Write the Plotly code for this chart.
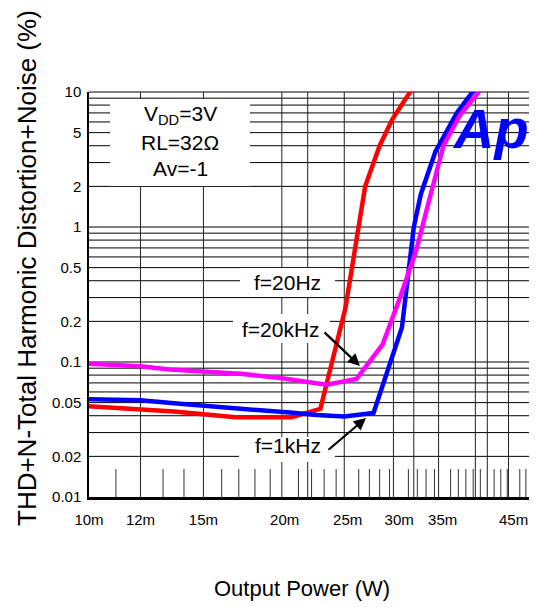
import math
import plotly.graph_objects as go

# ---------------- data ----------------
p20hz_mw = [10, 12, 13.5, 16.8, 20.5, 22.7, 23.2, 24.8, 26.6, 28.0, 29.3, 31.4]
thd20hz = [0.047, 0.045, 0.043, 0.039, 0.039, 0.045, 0.07, 0.25, 2.0, 4.0, 6.3, 10.5]

p1k_mw = [10, 12, 13.8, 17.1, 20.6, 22.4, 24.7, 27.4, 28.4, 30.3, 31.6, 32.4, 34.1, 35.1, 36.8, 39.2]
thd1k = [0.053, 0.052, 0.049, 0.0455, 0.042, 0.0405, 0.0395, 0.042, 0.07, 0.18, 1.0, 1.75, 3.6, 4.7, 7.0, 10.5]

p20k_mw = [10, 12, 13.3, 14.8, 17.1, 19.7, 23.2, 25.8, 28.3, 30.1, 31.9, 33.1, 34.3, 35.1, 37.2, 39.9]
thd20k = [0.097, 0.093, 0.088, 0.086, 0.082, 0.076, 0.068, 0.075, 0.135, 0.30, 0.68, 1.36, 2.6, 4.0, 6.7, 10.2]

x_tick_mw = [10, 12, 15, 20, 25, 30, 35, 45]
x_tick_text = ["10m", "12m", "15m", "20m", "25m", "30m", "35m", "45m"]
y_tick_vals = [0.01, 0.02, 0.05, 0.1, 0.2, 0.5, 1, 2, 5, 10]
y_tick_text = ["0.01", "0.02", "0.05", "0.1", "0.2", "0.5", "1", "2", "5", "10"]

v_grid_mw = [12, 15, 19.8, 21.7, 24.7, 29.4, 31.6, 34.5, 39.3, 41.0, 44.2]
minor_tick_mw = [11, 13, 14, 16, 17, 18, 19, 21, 22, 23, 24, 26, 27, 28, 29, 31, 32, 33,
                 34, 36, 37, 38, 39, 40, 42, 43, 44, 46, 47, 48]
h_grid = [m * 10.0 ** e for e in (-2, -1, 0) for m in range(2, 10)] + [0.1, 1, 10]

# ---------------- layout geometry ----------------
OFF = 8  # page body margin
W, H = 537 - OFF, 607 - OFF
L, R, T, B = 89, 537, 92, 497       # plot area in window pixels
DEC_X = 650.0
xr = [-2.0, -2.0 + (R - L) / DEC_X]
yr = [-2.0, 1.0]


def xp_w(v):  # data (W) -> paper
    return (math.log10(v) - xr[0]) / (xr[1] - xr[0])


def yp_v(v):
    return (math.log10(v) - yr[0]) / (yr[1] - yr[0])


def ppx(px):
    return (px - L) / (R - L)


def ppy(py):
    return (B - py) / (B - T)


fig = go.Figure()

for name, xs, ys, col in [
    ("f=20Hz", p20hz_mw, thd20hz, "#FF0000"),
    ("f=1kHz", p1k_mw, thd1k, "#0000FF"),
    ("f=20kHz", p20k_mw, thd20k, "#FF00FF"),
]:
    fig.add_trace(go.Scatter(x=[v / 1000 for v in xs], y=ys, mode="lines",
                             line=dict(color=col, width=4.5), name=name,
                             showlegend=False))

shapes = []
for v in h_grid:
    shapes.append(dict(type="line", xref="paper", yref="paper", x0=0, x1=1,
                       y0=yp_v(v), y1=yp_v(v), line=dict(color="black", width=1), layer="below"))
for v in v_grid_mw:
    shapes.append(dict(type="line", xref="paper", yref="paper", x0=xp_w(v / 1000), x1=xp_w(v / 1000),
                       y0=0, y1=1, line=dict(color="#222222", width=1), layer="below"))
for v in minor_tick_mw:
    shapes.append(dict(type="line", xref="paper", yref="paper", x0=xp_w(v / 1000), x1=xp_w(v / 1000),
                       y0=0, y1=ppy(469), line=dict(color="#333333", width=1), layer="below"))

# white boxes behind the labels
for (x0, x1, y0, y1) in [(110, 250, 99, 186), (240, 335, 268, 297),
                         (233, 330, 314, 343), (239, 335, 437, 462)]:
    shapes.append(dict(type="rect", xref="paper", yref="paper", x0=ppx(x0), x1=ppx(x1),
                       y0=ppy(y1), y1=ppy(y0), fillcolor="white", line=dict(width=0),
                       layer="below"))

font = "Liberation Sans, Arial, sans-serif"
ann = []


def txt(s, x, y, size=21, **kw):
    d = dict(text=s, xref="paper", yref="paper", x=ppx(x), y=ppy(y), showarrow=False,
             xanchor="center", yanchor="middle", font=dict(family=font, size=size, color="black"))
    d.update(kw)
    ann.append(d)


txt("V<sub>DD</sub>=3V", 180, 115)
txt("RL=32Ω", 180, 142)
txt("Av=-1", 180, 168)
txt("f=20Hz", 287, 282)
txt("f=20kHz", 281, 329)
txt("f=1kHz", 288, 445)

for tip, tail in [((360, 366), (323, 331)), ((366, 418), (327, 451))]:
    ann.append(dict(text="", xref="paper", yref="paper", x=ppx(tip[0]), y=ppy(tip[1]),
                    ax=tail[0] - tip[0], ay=tail[1] - tip[1], showarrow=True,
                    arrowhead=2, arrowsize=1.1, arrowwidth=2.2, arrowcolor="black", standoff=0))

# axis titles
txt("Output Power (W)", 302, 588, size=22)
txt("THD+N-Total Harmonic Distortion+Noise (%)", 27, 268, size=26, textangle=-90)
# logo
ann.append(dict(text="<b><i>Ap</i></b>", xref="paper", yref="paper", x=ppx(531),
                y=ppy(128), showarrow=False, xanchor="right", yanchor="middle",
                font=dict(family=font, size=56, color="#0000FF")))

fig.update_layout(
    width=W, height=H,
    margin=dict(l=L - OFF, r=W - (R - OFF), t=T - OFF, b=H - (B - OFF), pad=0),
    paper_bgcolor="white", plot_bgcolor="white",
    shapes=shapes, annotations=ann, showlegend=False,
    xaxis=dict(type="log", range=xr, tickvals=[v / 1000 for v in x_tick_mw], ticktext=x_tick_text,
               showgrid=False, zeroline=False, showline=True, linecolor="black", linewidth=2.5,
               ticks="", ticklabelstandoff=7,
               tickfont=dict(family=font, size=15, color="black")),
    yaxis=dict(type="log", range=yr, tickvals=y_tick_vals, ticktext=y_tick_text,
               showgrid=False, zeroline=False, showline=True, linecolor="black", linewidth=1.5,
               ticks="", ticklabelstandoff=3,
               tickfont=dict(family=font, size=15, color="black")),
)

fig.write_html("out.html")
